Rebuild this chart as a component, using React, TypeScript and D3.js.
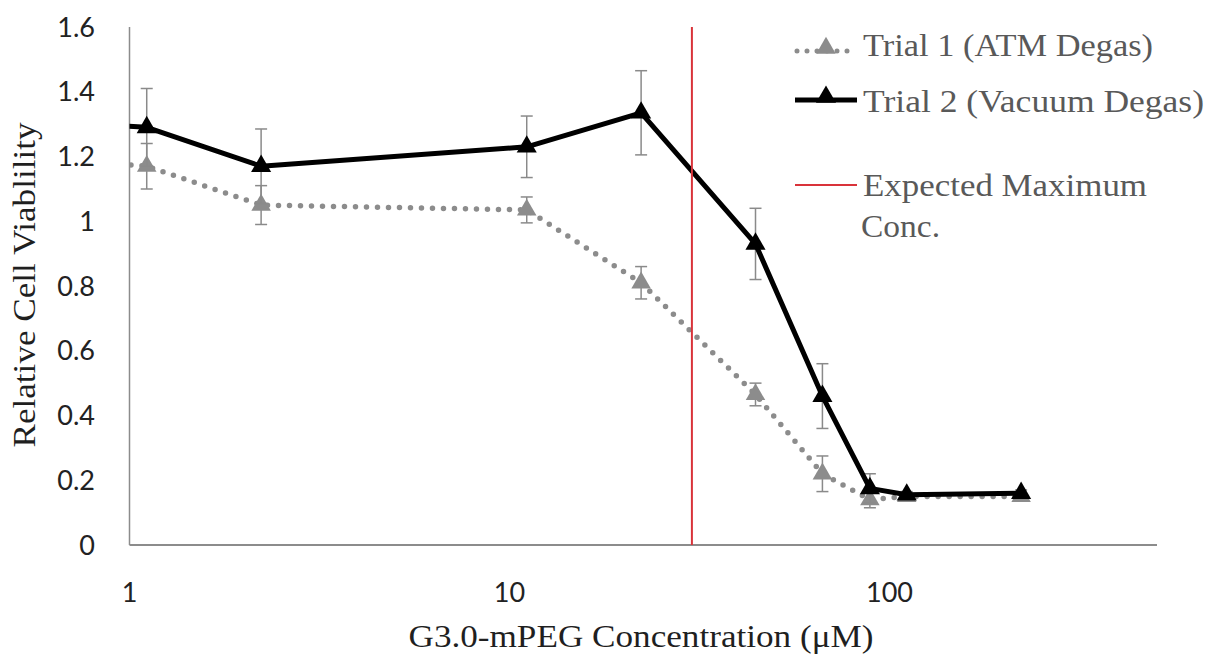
import React from "react";
import * as d3 from "d3";

const concentrations = [0.555, 1.11, 2.22, 11.1, 22.2, 44.4, 66.6, 88.8, 111, 222];
const trial1Values = [1.2, 1.17, 1.05, 1.035, 0.81, 0.465, 0.22, 0.14, 0.15, 0.15];
const trial1Errors = [0.07, 0.07, 0.06, 0.04, 0.05, 0.035, 0.055, 0.025, 0.01, 0.01];
const trial2Values = [1.31, 1.29, 1.17, 1.23, 1.335, 0.93, 0.46, 0.175, 0.155, 0.16];
const trial2Errors = [0.12, 0.12, 0.115, 0.095, 0.13, 0.11, 0.1, 0.045, 0.01, 0.01];
const expectedMax = 30.2;
const yTicks = [0, 0.2, 0.4, 0.6, 0.8, 1, 1.2, 1.4, 1.6];
const xTicks = [1, 10, 100];
const legendLabels = ["Trial 1 (ATM Degas)", "Trial 2 (Vacuum Degas)", "Expected Maximum", "Conc."];
const yTitle = "Relative Cell Viablility";
const xTitle = "G3.0-mPEG Concentration (μM)";

const W = 1209;
const H = 657;
const left = 129.5;
const right = 1157;
const top = 27;
const bottom = 545;

export default function App() {
  const x = d3.scaleLog().domain([1, Math.pow(10, (right - left) / 380)]).range([left, right]);
  const y = d3.scaleLinear().domain([0, 1.6]).range([bottom, top]);
  const line = d3
    .line<number>()
    .x((_, i) => x(concentrations[i]))
    .y((d) => y(d));
  const tri = d3.symbol().type(d3.symbolTriangle).size(175)()!;
  const triSmall = d3.symbol().type(d3.symbolTriangle).size(165)()!;
  const serif = "Liberation Serif";
  const sans = "Lato";
  const gray = "#8c8c8c";
  const errColor = "#8a8a8a";

  const errBars = (vals: number[], errs: number[], key: string) =>
    vals.map((v, i) => {
      const cx = x(concentrations[i]);
      const y1 = y(v + errs[i]);
      const y2 = y(v - errs[i]);
      return (
        <g key={key + i} stroke={errColor} strokeWidth={1.5}>
          <line x1={cx} x2={cx} y1={y1} y2={y2} />
          <line x1={cx - 6} x2={cx + 6} y1={y1} y2={y1} />
          <line x1={cx - 6} x2={cx + 6} y1={y2} y2={y2} />
        </g>
      );
    });

  return (
    <svg
      width={W}
      height={H}
      style={{ position: "absolute", left: 0, top: 0, background: "#fff" }}
    >
      <defs>
        <clipPath id="plot">
          <rect x={left} y={0} width={right - left} height={bottom} />
        </clipPath>
      </defs>
      <rect x={0} y={0} width={W} height={H} fill="#fff" />

      {/* axes */}
      <line x1={left} x2={left} y1={top} y2={bottom} stroke="#8c8c8c" strokeWidth={1.5} />
      <line x1={left} x2={right} y1={bottom} y2={bottom} stroke="#8c8c8c" strokeWidth={2} />

      {/* y ticks */}
      <g style={{ fontFamily: sans }} fontSize={27} fill="#222">
        {yTicks.map((t) => (
          <text key={"yt" + t} x={95} y={y(t)} dy="0.36em" textAnchor="end">
            {String(t)}
          </text>
        ))}
        {xTicks.map((t) => (
          <text key={"xt" + t} x={x(t)} y={602} textAnchor="middle">
            {String(t)}
          </text>
        ))}
      </g>

      {/* titles */}
      <g style={{ fontFamily: serif }} fontFamily={serif} fill="#1f1f1f">
        <text
          transform="translate(35,285) rotate(-90)"
          textAnchor="middle"
          fontSize={31}
          textLength={325}
          lengthAdjust="spacingAndGlyphs"
        >
          {yTitle}
        </text>
        <text
          x={641}
          y={647}
          textAnchor="middle"
          fontSize={32}
          textLength={465}
          lengthAdjust="spacingAndGlyphs"
        >
          {xTitle}
        </text>
      </g>

      <g clipPath="url(#plot)">
        {/* Trial 1 */}
        {errBars(trial1Values, trial1Errors, "e1")}
        <path
          d={line(trial1Values)!}
          fill="none"
          stroke={gray}
          strokeWidth={5.5}
          strokeLinecap="round"
          strokeDasharray="0 11"
        />
        {trial1Values.map((v, i) => (
          <path
            key={"m1" + i}
            d={triSmall}
            transform={`translate(${x(concentrations[i])},${y(v)})`}
            fill={gray}
          />
        ))}
        {/* Trial 2 */}
        {errBars(trial2Values, trial2Errors, "e2")}
        <path d={line(trial2Values)!} fill="none" stroke="#000" strokeWidth={5} strokeLinejoin="round" />
        {trial2Values.map((v, i) => (
          <path
            key={"m2" + i}
            d={tri}
            transform={`translate(${x(concentrations[i])},${y(v)})`}
            fill="#000"
          />
        ))}
        {/* Expected maximum */}
        <line
          x1={x(expectedMax)}
          x2={x(expectedMax)}
          y1={top}
          y2={bottom}
          stroke="#d9333a"
          strokeWidth={2}
        />
      </g>

      {/* legend */}
      <g style={{ fontFamily: serif }}>
        <line x1={797} x2={857} y1={51} y2={51} stroke={gray} strokeWidth={5} strokeLinecap="round" strokeDasharray="0 10" />
        <path d={triSmall} transform="translate(826,48)" fill={gray} />
        <text x={863} y={56} fontSize={32} fill="#595959" textLength={290} lengthAdjust="spacingAndGlyphs">
          {legendLabels[0]}
        </text>
        <line x1={795} x2={857} y1={100} y2={100} stroke="#000" strokeWidth={5} />
        <path d={tri} transform="translate(826,97)" fill="#000" />
        <text x={863} y={112} fontSize={32} fill="#595959" textLength={341} lengthAdjust="spacingAndGlyphs">
          {legendLabels[1]}
        </text>
        <line x1={795} x2={857} y1={185} y2={185} stroke="#d9333a" strokeWidth={2} />
        <text x={863} y={196} fontSize={32} fill="#595959" textLength={284} lengthAdjust="spacingAndGlyphs">
          {legendLabels[2]}
        </text>
        <text x={861} y={237} fontSize={32} fill="#595959" textLength={79} lengthAdjust="spacingAndGlyphs">
          {legendLabels[3]}
        </text>
      </g>
    </svg>
  );
}
